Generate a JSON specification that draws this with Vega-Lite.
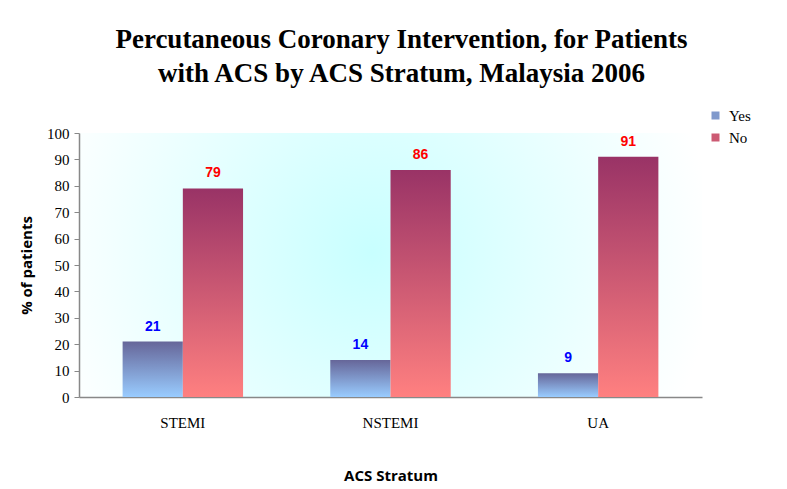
{
  "$schema": "https://vega.github.io/schema/vega-lite/v6.json",
  "autosize": "none",
  "width": 623,
  "height": 264,
  "padding": {"left": 79, "top": 133, "right": 85, "bottom": 92},
  "background": "white",
  "title": {
    "text": ["Percutaneous Coronary Intervention, for Patients", "with ACS by ACS Stratum, Malaysia 2006"],
    "font": "Liberation Serif",
    "fontSize": 27,
    "fontWeight": "bold",
    "color": "black",
    "lineHeight": 34,
    "anchor": "middle",
    "offset": 20,
    "dx": 11
  },
  "view": {
    "stroke": null,
    "fill": {
      "gradient": "radial",
      "x1": 0.47, "y1": 0.48, "r1": 0,
      "x2": 0.47, "y2": 0.48, "r2": 0.55,
      "stops": [
        {"offset": 0, "color": "#C8FFFF"},
        {"offset": 0.5, "color": "#E4FFFF"},
        {"offset": 1, "color": "#FFFFFF"}
      ]
    }
  },
  "data": {
    "values": [
      {"stratum": "STEMI", "resp": "Yes", "pct": 21},
      {"stratum": "STEMI", "resp": "No", "pct": 79},
      {"stratum": "NSTEMI", "resp": "Yes", "pct": 14},
      {"stratum": "NSTEMI", "resp": "No", "pct": 86},
      {"stratum": "UA", "resp": "Yes", "pct": 9},
      {"stratum": "UA", "resp": "No", "pct": 91}
    ]
  },
  "encoding": {
    "x": {
      "field": "stratum",
      "type": "nominal",
      "sort": ["STEMI", "NSTEMI", "UA"],
      "scale": {"paddingInner": 0.42, "paddingOuter": 0.21},
      "title": "ACS Stratum",
      "axis": {
        "labelAngle": 0,
        "ticks": false,
        "tickSize": 0,
        "domainColor": "#888888",
        "domainWidth": 1.5,
        "labelFont": "Liberation Serif",
        "labelFontSize": 15,
        "labelColor": "black",
        "labelPadding": 18,
        "titleFont": "Open Sans",
        "titleFontSize": 15,
        "titleFontWeight": "bold",
        "titleColor": "black",
        "titlePadding": 38
      }
    },
    "xOffset": {
      "field": "resp",
      "type": "nominal",
      "sort": ["Yes", "No"],
      "scale": {"paddingInner": 0, "paddingOuter": 0}
    },
    "y": {
      "field": "pct",
      "type": "quantitative",
      "scale": {"domain": [0, 100], "nice": false},
      "title": "% of patients",
      "axis": {
        "values": [0, 10, 20, 30, 40, 50, 60, 70, 80, 90, 100],
        "grid": false,
        "domainColor": "#888888",
        "domainWidth": 1.5,
        "tickColor": "#888888",
        "tickSize": 5,
        "labelFont": "Liberation Serif",
        "labelFontSize": 15,
        "labelColor": "black",
        "labelPadding": 5,
        "titleFont": "Open Sans",
        "titleFontSize": 15,
        "titleFontWeight": "bold",
        "titleColor": "black",
        "titlePadding": 12
      }
    }
  },
  "layer": [
    {
      "mark": {"type": "bar"},
      "encoding": {
        "color": {
          "field": "resp",
          "type": "nominal",
          "sort": ["Yes", "No"],
          "scale": {"domain": ["Yes", "No"], "range": ["#8099CC", "#CC5A73"]},
          "condition": [
            {"test": "datum.resp === 'Yes'", "value": {"gradient": "linear", "x1": 0, "y1": 0, "x2": 0, "y2": 1, "stops": [{"offset": 0, "color": "#666699"}, {"offset": 1, "color": "#99CCFF"}]}},
            {"test": "datum.resp === 'No'", "value": {"gradient": "linear", "x1": 0, "y1": 0, "x2": 0, "y2": 1, "stops": [{"offset": 0, "color": "#993366"}, {"offset": 1, "color": "#FF8080"}]}}
          ],
          "legend": {
            "title": null,
            "orient": "none",
            "legendX": 629,
            "legendY": -25,
            "padding": 0,
            "symbolType": "square",
            "symbolSize": 64,
            "symbolStrokeWidth": 0,
            "labelFont": "Liberation Serif",
            "labelFontSize": 15,
            "labelColor": "black",
            "labelOffset": 6,
            "rowPadding": 6,
            "encode": {
              "symbols": {
                "update": {
                  "fill": [
                    {"test": "datum.value === 'Yes'", "value": {"gradient": "linear", "x1": 0, "y1": 0, "x2": 0, "y2": 1, "stops": [{"offset": 0, "color": "#666699"}, {"offset": 1, "color": "#99CCFF"}]}},
                    {"value": {"gradient": "linear", "x1": 0, "y1": 0, "x2": 0, "y2": 1, "stops": [{"offset": 0, "color": "#993366"}, {"offset": 1, "color": "#FF8080"}]}}
                  ],
                  "stroke": {"value": null}
                }
              }
            }
          }
        }
      }
    },
    {
      "mark": {"type": "text", "font": "Liberation Sans", "fontSize": 14, "fontWeight": "bold", "baseline": "middle", "align": "center", "dy": -15},
      "encoding": {
        "text": {"field": "pct", "type": "quantitative"},
        "color": {"condition": {"test": "datum.resp === 'Yes'", "value": "#0000FF"}, "value": "#FF0000"}
      }
    }
  ]
}
